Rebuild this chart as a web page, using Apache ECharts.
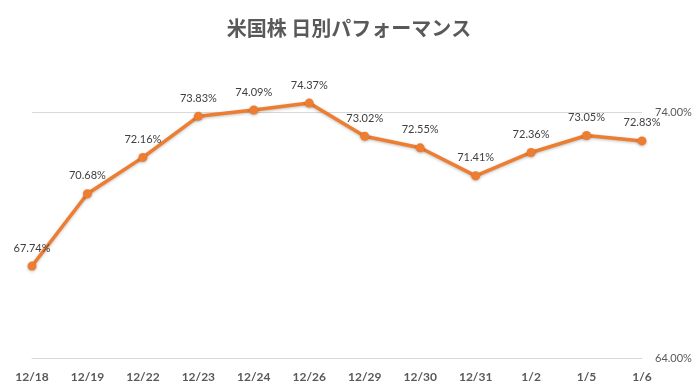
<!DOCTYPE html>
<html><head><meta charset="utf-8">
<script src="https://cdn.jsdelivr.net/npm/echarts@6/dist/echarts.min.js"></script>
<style>html,body{margin:0;padding:0;background:#fff}#c{width:698px;height:392px}</style>
</head><body><div id="c"></div>
<script>
const titleText = '米国株 日別パフォーマンス';
const categories = ['12/18','12/19','12/22','12/23','12/24','12/26','12/29','12/30','12/31','1/2','1/5','1/6'];
const values = [67.74, 70.68, 72.16, 73.83, 74.09, 74.37, 73.02, 72.55, 71.41, 72.36, 73.05, 72.83];
const yMin = 64, yMax = 76, yInterval = 10;

const chart = echarts.init(document.getElementById('c'), null, {renderer:'canvas'});
chart.setOption({
  animation: false,
  backgroundColor: '#fff',
  title: {
    text: titleText, left: 'center', top: 13,
    textStyle: {fontFamily: '"Noto Sans CJK JP"', fontSize: 20, fontWeight: 'bold', color: '#595959'}
  },
  grid: {left: 32, right: 56, top: 63, bottom: 34},
  xAxis: {
    type: 'category', data: categories, boundaryGap: false,
    axisLine: {lineStyle: {color: '#d9d9d9', width: 1}},
    axisTick: {show: false},
    axisLabel: {color: '#595959', fontWeight: 'bold', fontSize: 12, margin: 13, fontFamily: 'Lato, "Noto Sans", sans-serif'}
  },
  yAxis: {
    type: 'value', position: 'right', min: yMin, max: yMax, interval: yInterval,
    axisLine: {show: false}, axisTick: {show: false},
    axisLabel: {color: '#595959', fontSize: 11, margin: 13, showMaxLabel: false,
      fontFamily: 'Lato, "Noto Sans", sans-serif',
      formatter: v => v.toFixed(2) + '%'},
    splitLine: {lineStyle: {color: '#d9d9d9', width: 1}, showMaxLine: false}
  },
  series: [{
    type: 'line', data: values,
    symbol: 'circle', symbolSize: 9,
    lineStyle: {color: '#ED7D31', width: 3.5, shadowColor: 'rgba(0,0,0,0.25)', shadowBlur: 3, shadowOffsetY: 1},
    itemStyle: {color: '#ED7D31', shadowColor: 'rgba(0,0,0,0.25)', shadowBlur: 3, shadowOffsetY: 1},
    label: {show: true, position: 'top', distance: 8, color: '#404040', fontSize: 11,
      fontFamily: 'Lato, "Noto Sans", sans-serif',
      formatter: p => p.value.toFixed(2) + '%'}
  }]
});
</script></body></html>
